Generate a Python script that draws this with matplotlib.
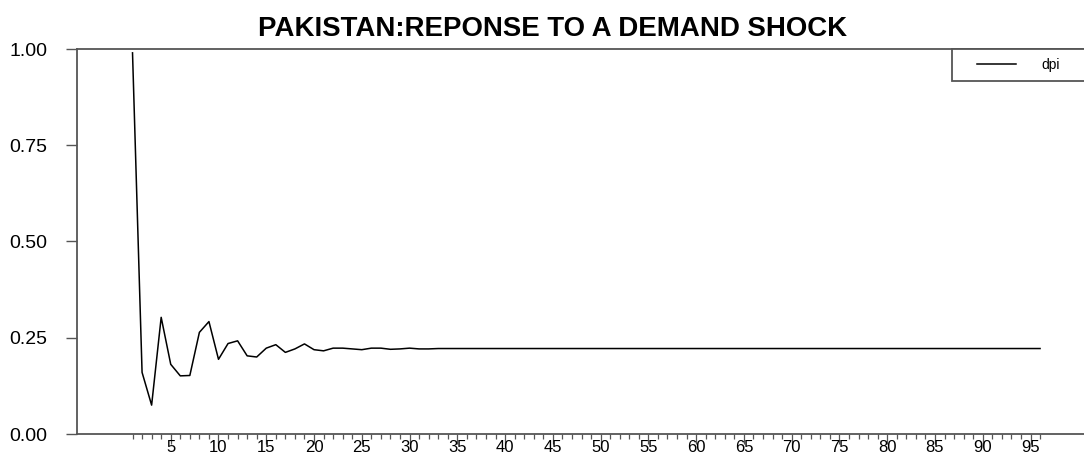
import matplotlib
matplotlib.use("Agg")
import matplotlib.pyplot as plt
from matplotlib.ticker import FixedLocator, NullFormatter
from matplotlib.patches import Rectangle

plt.rcParams['font.family'] = ['Liberation Sans', 'DejaVu Sans']

# ---- data ----
title = "PAKISTAN:REPONSE TO A DEMAND SHOCK"
series_name = "dpi"
periods = list(range(1, 97))
dpi = [
    0.990, 0.160, 0.075, 0.303, 0.181, 0.151, 0.152, 0.264, 0.292, 0.194,
    0.235, 0.242, 0.203, 0.200, 0.223, 0.232, 0.212, 0.221, 0.234, 0.219,
    0.216, 0.223, 0.223, 0.221, 0.219, 0.223, 0.223, 0.220, 0.221, 0.223,
    0.221, 0.221, 0.222, 0.222, 0.222, 0.222, 0.222, 0.222, 0.222, 0.222,
    0.222, 0.222, 0.222, 0.222, 0.222, 0.222, 0.222, 0.222, 0.222, 0.222,
    0.222, 0.222, 0.222, 0.222, 0.222, 0.222, 0.222, 0.222, 0.222, 0.222,
    0.222, 0.222, 0.222, 0.222, 0.222, 0.222, 0.222, 0.222, 0.222, 0.222,
    0.222, 0.222, 0.222, 0.222, 0.222, 0.222, 0.222, 0.222, 0.222, 0.222,
    0.222, 0.222, 0.222, 0.222, 0.222, 0.222, 0.222, 0.222, 0.222, 0.222,
    0.222, 0.222, 0.222, 0.222, 0.222, 0.222,
]
y_ticks = [0.00, 0.25, 0.50, 0.75, 1.00]
y_tick_labels = ["0.00", "0.25", "0.50", "0.75", "1.00"]
x_major_ticks = list(range(5, 96, 5))

W, H = 1084, 461
fig = plt.figure(figsize=(W / 100, H / 100), dpi=100)
left_px, right_px, top_px, bottom_px = 77.3, 1084, 49, 434
ax = fig.add_axes([left_px / W, (H - bottom_px) / H,
                   (right_px - left_px) / W, (bottom_px - top_px) / H])

ax.plot(periods, dpi, color='black', lw=1.1, label=series_name)

ax.set_xlim(-4.78, 100.6)
ax.set_ylim(0, 1)

spine_col = '#555555'
for s in ['left', 'bottom', 'top']:
    ax.spines[s].set_color(spine_col)
    ax.spines[s].set_linewidth(1.3)
ax.spines['right'].set_visible(False)

ax.set_yticks(y_ticks)
ax.set_yticklabels(y_tick_labels)
ax.tick_params(axis='y', direction='out', length=8.1, width=1.0, color=spine_col,
               pad=13.2, labelsize=14)

ax.xaxis.set_major_locator(FixedLocator(x_major_ticks))
ax.xaxis.set_minor_locator(FixedLocator(periods))
ax.xaxis.set_minor_formatter(NullFormatter())
ax.tick_params(axis='x', which='major', direction='out', length=7.2, width=0.9,
               color=spine_col, pad=-2.6, labelsize=12)
ax.tick_params(axis='x', which='minor', direction='out', length=3.6, width=0.9,
               color=spine_col)

# legend: box frame drawn as a rectangle, entries via ax.legend without frame
def px2ax(xp, yp):
    return ((xp - left_px) / (right_px - left_px),
            (bottom_px - yp) / (bottom_px - top_px))

bx0, by0 = px2ax(952.3, 80.7)
bx1, by1 = px2ax(1095, 49)
frame = Rectangle((bx0, by0), bx1 - bx0, by1 - by0, transform=ax.transAxes,
                  facecolor='white', edgecolor=spine_col, lw=1.3,
                  clip_on=False, zorder=4)
ax.add_patch(frame)

fs_px = 10 * 100 / 72.0
hx, hy = px2ax(977 - 0.0, 65)
leg = ax.legend(loc='center left', bbox_to_anchor=(hx, hy), fontsize=10,
                frameon=False, handlelength=39 / fs_px,
                handletextpad=25 / fs_px, borderpad=0.0, borderaxespad=0.0)
leg.set_zorder(5)

fig.text(553 / W, 1 - 36 / H, title, ha='center', va='baseline',
         fontsize=19.9, fontweight='bold')

fig.savefig("out.png", dpi=100)
